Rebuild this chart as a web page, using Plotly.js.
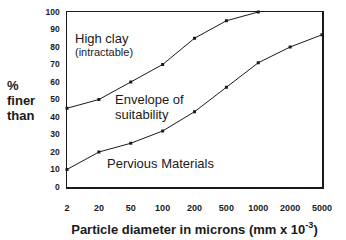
<!DOCTYPE html>
<html>
<head>
<meta charset="utf-8">
<script src="https://cdn.plot.ly/plotly-3.0.1.min.js"></script>
<style>
  html, body { margin: 0; padding: 0; background: #fff; }
  #chart { width: 346px; height: 240px; }
</style>
</head>
<body>
<div id="chart"></div>
<script>
// particle diameter classes (microns), evenly spaced on the chart
var sizes = ['2', '20', '50', '100', '200', '500', '1000', '2000', '5000'];

// upper limit of the envelope (high clay side)
var upperSizes = ['2', '20', '50', '100', '200', '500', '1000'];
var upperFiner = [45, 50, 60, 70, 85, 95, 100];

// lower limit of the envelope (pervious side)
var lowerSizes = sizes;
var lowerFiner = [10, 20, 25, 32, 43, 57, 71, 80, 87];

var yTicks = [0, 10, 20, 30, 40, 50, 60, 70, 80, 90, 100];

var ink = '#1a1a1a';
var font = 'Arial, "Liberation Sans", sans-serif';

function curve(xs, ys) {
    return {
        x: xs, y: ys,
        type: 'scatter',
        mode: 'lines+markers',
        line: {color: ink, width: 1},
        marker: {color: ink, size: 3, symbol: 'square'},
        hoverinfo: 'skip',
        cliponaxis: false
    };
}

var data = [curve(upperSizes, upperFiner), curve(lowerSizes, lowerFiner)];

function label(text, x, y, size) {
    return {
        text: text, x: x, y: y,
        xref: 'x', yref: 'y',
        xanchor: 'left', yanchor: 'middle',
        showarrow: false,
        font: {family: font, size: size, color: ink}
    };
}

function ylab(text, y) {
    return {
        text: '<b>' + text + '</b>', x: -0.245, y: y,
        xref: 'paper', yref: 'y',
        xanchor: 'left', yanchor: 'middle',
        showarrow: false,
        font: {family: font, size: 13, color: ink}
    };
}

var layout = {
    width: 346,
    height: 240,
    margin: {l: 67, r: 24, t: 12, b: 53},
    paper_bgcolor: '#fff',
    plot_bgcolor: '#fff',
    showlegend: false,
    font: {family: font, color: ink},
    xaxis: {
        type: 'category',
        categoryorder: 'array',
        categoryarray: sizes,
        range: [0, 8],
        showgrid: false,
        zeroline: false,
        showline: true,
        mirror: true,
        linecolor: ink,
        linewidth: 1.5,
        ticks: '',
        ticklabelstandoff: 12,
        tickfont: {family: font, size: 9, color: ink, weight: 'bold'},
        title: {
            text: '<b>Particle diameter in microns (mm x 10<sup>-3</sup>)</b>',
            font: {family: font, size: 13, color: ink},
            standoff: 12
        },
        fixedrange: true
    },
    yaxis: {
        range: [0, 100],
        tickvals: yTicks,
        showgrid: false,
        zeroline: false,
        showline: true,
        mirror: true,
        linecolor: ink,
        linewidth: 1.5,
        ticks: '',
        ticklabelstandoff: 4,
        tickfont: {family: font, size: 8.5, color: ink, weight: 'bold'},
        fixedrange: true
    },
    annotations: [
        label('High clay', 0.19, 85, 13),
        label('(intractable)', 0.19, 77, 11),
        label('Envelope of', 1.44, 50.2, 13),
        label('suitability', 1.44, 41.6, 13),
        label('Pervious Materials', 1.19, 13.3, 13),
        ylab('%', 58.2),
        ylab('finer', 49.3),
        ylab('than', 41)
    ]
};

Plotly.newPlot('chart', data, layout, {displayModeBar: false, staticPlot: true});
</script>
</body>
</html>
